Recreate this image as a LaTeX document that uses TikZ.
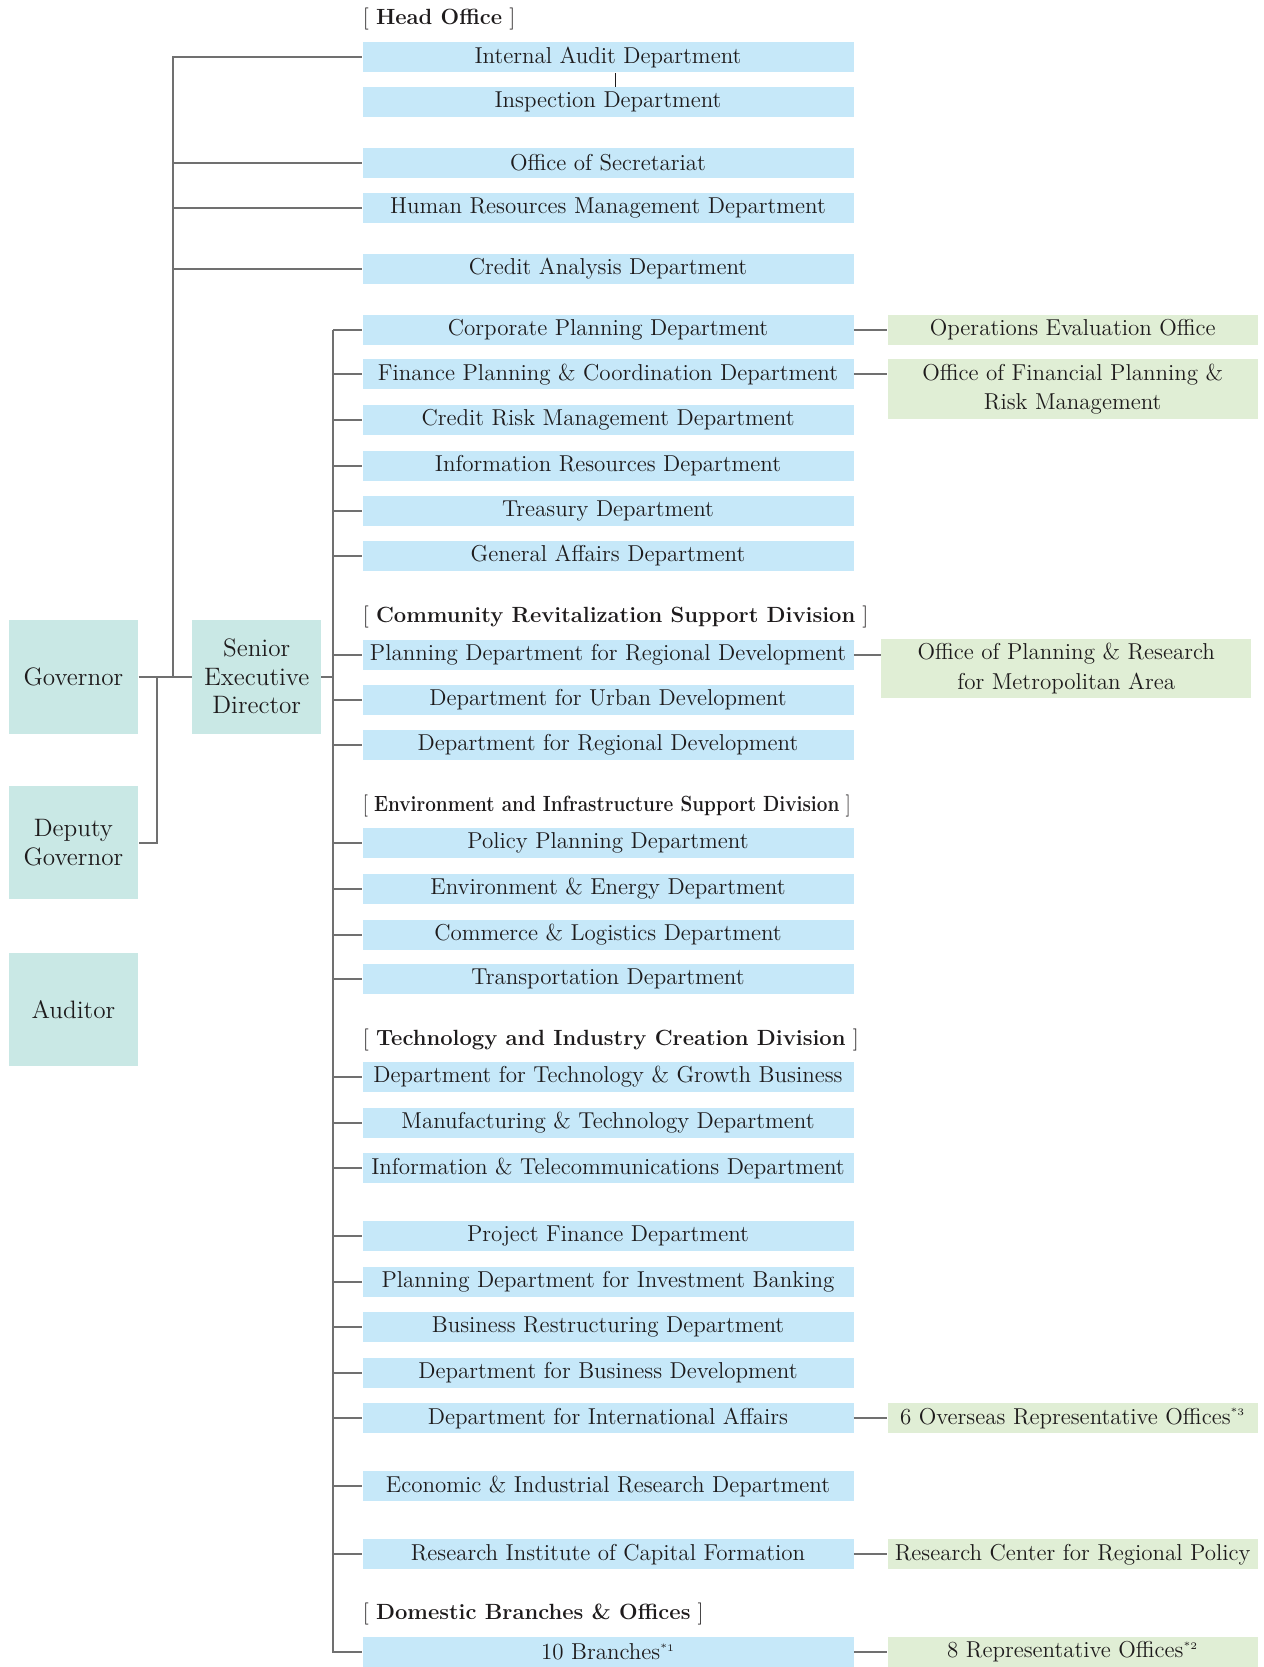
\documentclass[tikz,border=0pt]{standalone}
\usepackage{tikz}
\usetikzlibrary{positioning}
\definecolor{deptblue}{RGB}{198,232,249}
\definecolor{officegreen}{RGB}{224,238,213}
\definecolor{execteal}{RGB}{201,232,229}
\definecolor{linegray}{RGB}{112,112,112}
\definecolor{inkgray}{RGB}{30,27,28}

\begin{document}
\begin{tikzpicture}[x=0.5pt, y=-0.5pt,
  dept/.style={fill=deptblue, minimum width=245.5pt, minimum height=15pt, inner sep=0pt, text=inkgray, font=\fontsize{11.5}{13}\selectfont},
  office/.style={fill=officegreen, minimum width=185pt, minimum height=15pt, inner sep=0pt, align=center, text=inkgray, font=\fontsize{11.5}{14.9}\selectfont},
  exec/.style={fill=execteal, minimum width=64.8pt, minimum height=56.9pt, inner sep=0pt, align=center, text=inkgray, font=\fontsize{12.6}{14.3}\selectfont},
  heading/.style={anchor=west, inner sep=0pt, text=inkgray, font=\fontsize{11}{13}\selectfont},
  link/.style={draw=linegray, line width=1pt}]
\useasboundingbox (0,0) rectangle (1264,1667);

% top management
\node[exec] (gov) at (73.4,676.6) {Governor};
\node[exec] (dgov) at (73.4,842.5) {Deputy\\Governor};
\node[exec] (aud) at (73.4,1009.4) {Auditor};
\node[exec, minimum width=64.3pt] (sed) at (256.7,676.6) {Senior\\Executive\\Director};

% head office
\node[heading] (hhead) at (362.5,19) {[ \textbf{Head Office} ]};
\node[dept] (iad) at (608,57.4) {Internal Audit Department};
\node[dept] (insp) at (608,102) {Inspection Department};
\node[dept] (secr) at (608,162.7) {Office of Secretariat};
\node[dept] (hrm) at (608,208.4) {Human Resources Management Department};
\node[dept] (cad) at (608,269) {Credit Analysis Department};

\node[dept] (cpd) at (608,329.6) {Corporate Planning Department};
\node[dept] (fpcd) at (608,374.2) {Finance Planning \& Coordination Department};
\node[dept] (crmd) at (608,420) {Credit Risk Management Department};
\node[dept] (ird) at (608,465.6) {Information Resources Department};
\node[dept] (trd) at (608,511.4) {Treasury Department};
\node[dept] (gad) at (608,556) {General Affairs Department};

% community revitalization
\node[heading] (hcom) at (362.5,616.6) {[ \textbf{Community Revitalization Support Division} ]};
\node[dept] (pdrd) at (608,654.9) {Planning Department for Regional Development};
\node[dept] (dud) at (608,699.5) {Department for Urban Development};
\node[dept] (drd) at (608,745.2) {Department for Regional Development};

% environment and infrastructure
\node[heading] (henv) at (362.5,805.8) {\scalebox{0.86}[1]{[ \textbf{Environment and Infrastructure Support Division} ]}};
\node[dept] (ppd) at (608,843) {Policy Planning Department};
\node[dept] (eed) at (608,888.8) {Environment \& Energy Department};
\node[dept] (cld) at (608,934.5) {Commerce \& Logistics Department};
\node[dept] (tpd) at (608,979.1) {Transportation Department};

% technology and industry
\node[heading] (htech) at (362.5,1039.7) {[ \textbf{Technology and Industry Creation Division} ]};
\node[dept] (dtgb) at (608,1076.9) {Department for Technology \& Growth Business};
\node[dept] (mtd) at (608,1122.6) {Manufacturing \& Technology Department};
\node[dept] (itd) at (608,1168.3) {Information \& Telecommunications Department};

\node[dept] (pfd) at (608,1236.4) {Project Finance Department};
\node[dept] (pdib) at (608,1282.1) {Planning Department for Investment Banking};
\node[dept] (brd) at (608,1326.7) {Business Restructuring Department};
\node[dept] (dbd) at (608,1372.5) {Department for Business Development};
\node[dept] (dia) at (608,1418.2) {Department for International Affairs};
\node[dept] (eird) at (608,1486.2) {Economic \& Industrial Research Department};
\node[dept] (ricf) at (608,1554.3) {Research Institute of Capital Formation};

% domestic branches
\node[heading] (hdom) at (362.5,1613.8) {[ \textbf{Domestic Branches \& Offices} ]};
\node[dept] (brn) at (608,1652) {10 Branches\textsuperscript{\tiny *1}};

% attached offices
\node[office] (oeo) at (1072.7,329.6) {Operations Evaluation Office};
\node[office, minimum height=29.75pt] (ofpr) at (1072.7,389.1) {Office of Financial Planning \&\\Risk Management};
\node[office, minimum height=29.75pt] (opra) at (1066.3,668.7) {Office of Planning \& Research\\for Metropolitan Area};
\node[office] (oro) at (1072.7,1418.2) {6 Overseas Representative Offices\textsuperscript{\tiny *3}};
\node[office] (rcrp) at (1072.7,1554.3) {Research Center for Regional Policy};
\node[office] (rpo) at (1072.7,1652) {8 Representative Offices\textsuperscript{\tiny *2}};

% spines
\coordinate (hspine) at (173.3,0);
\coordinate (gspine) at (157.3,0);
\coordinate (dspine) at (332.8,0);

\draw[link] (gov.east) -- (sed.west);
\draw[link] (hspine |- gov.east) -- (hspine |- iad.west) -- (iad.west);
\draw[link] (hspine |- secr.west) -- (secr.west);
\draw[link] (hspine |- hrm.west) -- (hrm.west);
\draw[link] (hspine |- cad.west) -- (cad.west);
\draw[link] (gspine |- gov.east) -- (gspine |- dgov.east) -- (dgov.east);
\draw[line width=0.5pt, inkgray] ([xshift=3.75pt]iad.south) -- ([xshift=3.75pt]insp.north);

\draw[link] (sed.east) -- (dspine |- sed.east);
\draw[link] (dspine |- cpd.west) -- (dspine |- brn.west) -- (brn.west);
\draw[link] (dspine |- cpd.west) -- (cpd.west);
\draw[link] (dspine |- fpcd.west) -- (fpcd.west);
\draw[link] (dspine |- crmd.west) -- (crmd.west);
\draw[link] (dspine |- ird.west) -- (ird.west);
\draw[link] (dspine |- trd.west) -- (trd.west);
\draw[link] (dspine |- gad.west) -- (gad.west);
\draw[link] (dspine |- pdrd.west) -- (pdrd.west);
\draw[link] (dspine |- dud.west) -- (dud.west);
\draw[link] (dspine |- drd.west) -- (drd.west);
\draw[link] (dspine |- ppd.west) -- (ppd.west);
\draw[link] (dspine |- eed.west) -- (eed.west);
\draw[link] (dspine |- cld.west) -- (cld.west);
\draw[link] (dspine |- tpd.west) -- (tpd.west);
\draw[link] (dspine |- dtgb.west) -- (dtgb.west);
\draw[link] (dspine |- mtd.west) -- (mtd.west);
\draw[link] (dspine |- itd.west) -- (itd.west);
\draw[link] (dspine |- pfd.west) -- (pfd.west);
\draw[link] (dspine |- pdib.west) -- (pdib.west);
\draw[link] (dspine |- brd.west) -- (brd.west);
\draw[link] (dspine |- dbd.west) -- (dbd.west);
\draw[link] (dspine |- dia.west) -- (dia.west);
\draw[link] (dspine |- eird.west) -- (eird.west);
\draw[link] (dspine |- ricf.west) -- (ricf.west);

\draw[link] (cpd.east) -- (oeo.west);
\draw[link] (fpcd.east) -- (fpcd.east -| ofpr.west);
\draw[link] (pdrd.east) -- (pdrd.east -| opra.west);
\draw[link] (dia.east) -- (oro.west);
\draw[link] (ricf.east) -- (rcrp.west);
\draw[link] (brn.east) -- (rpo.west);
\end{tikzpicture}
\end{document}
